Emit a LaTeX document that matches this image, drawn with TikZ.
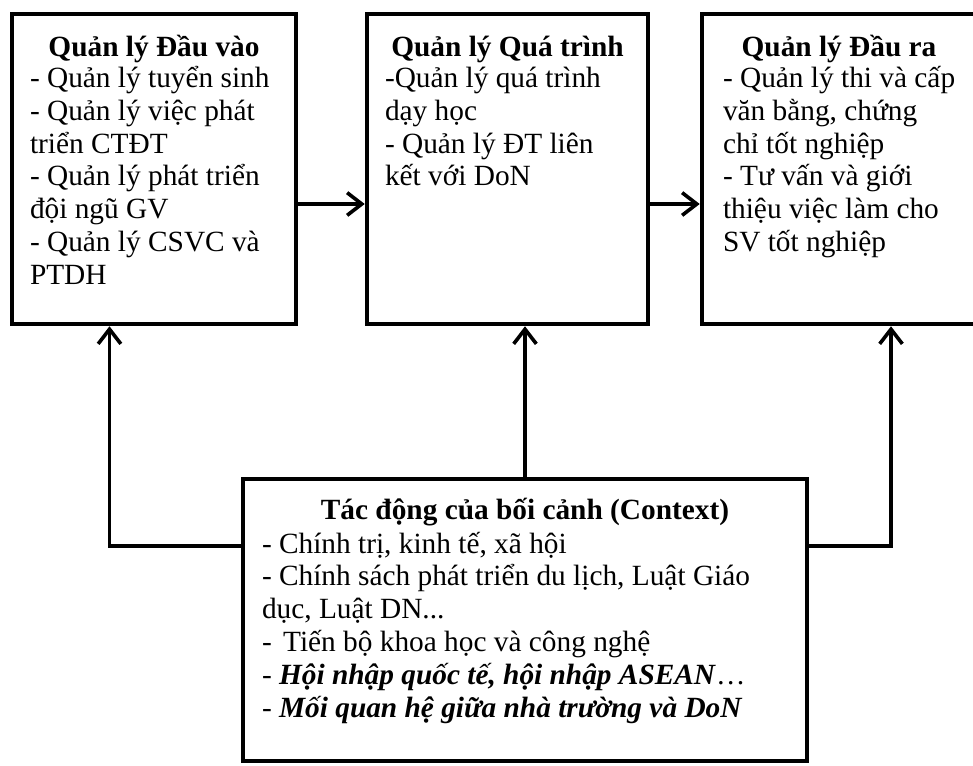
\documentclass[tikz,border=0pt]{standalone}
\usepackage{fontspec}
\setmainfont{Liberation Serif}
\usetikzlibrary{arrows.meta,fit}
\begin{document}
\begin{tikzpicture}[x=0.75pt,y=-0.75pt,
  box/.style={draw, line width=3.4pt, inner sep=0pt, rectangle},
  arr/.style={line width=2.7pt, line join=miter, -{Straight Barb[length=11pt,width=17pt]}},
  txt/.style={font=\fontsize{22}{24.6}\selectfont, inner sep=0pt, outer sep=0pt},
  ttl/.style={txt, font=\fontsize{22}{24.6}\selectfont\bfseries, anchor=base},
  body/.style={txt, align=left, anchor=north west}]
\useasboundingbox (0,0) rectangle (973,766);

% boxes
\node[box, fit={(12,14) (296,324)}] (box1) {};
\node[box, fit={(367,14) (648,324)}] (box2) {};
\node[box, fit={(702,14) (978,324)}] (box3) {};
\node[box, fit={(243,479) (807,761)}] (box4) {};

% texts
\node[ttl] (t1) at (154,57) {Quản lý Đầu vào};
\node[body] (b1) at (30,58.2) {\rule{0pt}{22pt}- Quản lý tuyển sinh\\- Quản lý việc phát\\triển CTĐT\\- Quản lý phát triển\\đội ngũ GV\\- Quản lý CSVC và\\PTDH};

\node[ttl] (t2) at (507.5,57) {Quản lý Quá trình};
\node[body] (b2) at (385,58.2) {\rule{0pt}{22pt}-Quản lý quá trình\\dạy học\\- Quản lý ĐT liên\\kết với DoN};

\node[ttl] (t3) at (839,57) {Quản lý Đầu ra};
\node[body] (b3) at (723,58.2) {\rule{0pt}{22pt}- Quản lý thi và cấp\\văn bằng, chứng\\chỉ tốt nghiệp\\- Tư vấn và giới\\thiệu việc làm cho\\SV tốt nghiệp};

\node[ttl] (t4) at (525,519) {Tác động của bối cảnh (Context)};
\node[body] (b4) at (262,523.7) {\rule{0pt}{22pt}- Chính trị, kinh tế, xã hội\\- Chính sách phát triển du lịch, Luật Giáo\\dục, Luật DN...\\-\hspace{3pt} Tiến bộ khoa học và công nghệ\\- \textbf{\textit{Hội nhập quốc tế, hội nhập ASEAN}}…\\- \textbf{\textit{Mối quan hệ giữa nhà trường và DoN}}};

% connectors
\coordinate (h) at (0,204);
\coordinate (L) at (109.5,546);
\coordinate (R) at (891,546);
\draw[arr] (box1.east |- h) -- (box2.west |- h);
\draw[arr] (box2.east |- h) -- (box3.west |- h);
\draw[arr] (box4.north) -- (box4.north |- box2.south);
\draw[arr] (box4.west |- L) -- (L) -- (L |- box1.south);
\draw[arr] (box4.east |- R) -- (R) -- (R |- box3.south);
\end{tikzpicture}
\end{document}
